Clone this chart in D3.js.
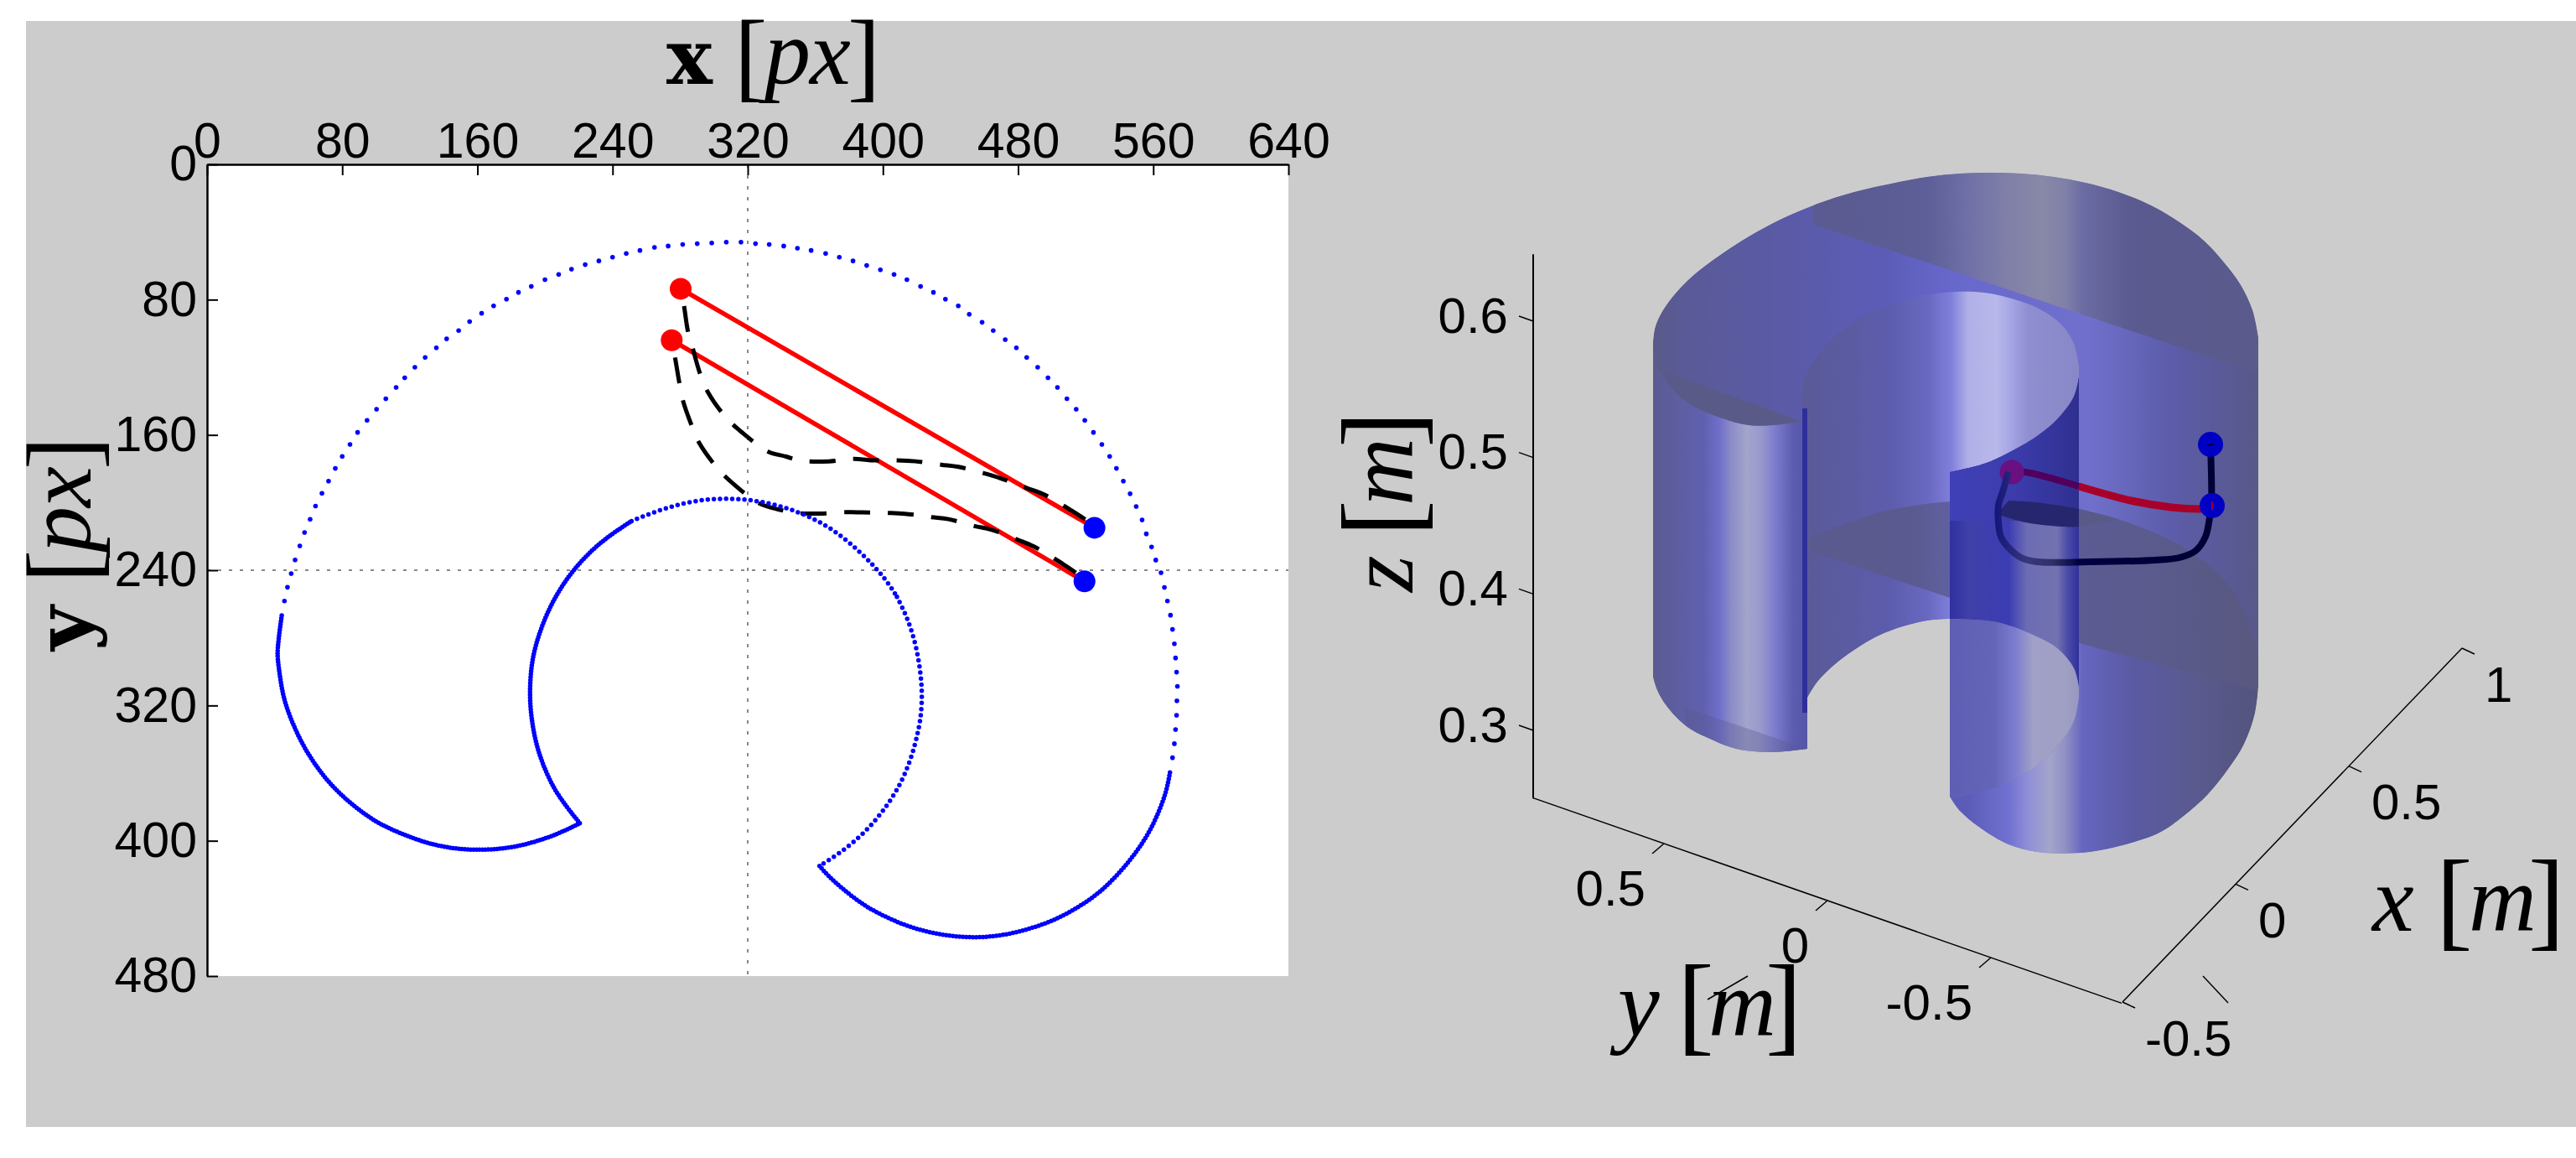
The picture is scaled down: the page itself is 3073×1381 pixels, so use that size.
<!DOCTYPE html>
<html>
<head>
<meta charset="utf-8">
<script src="https://cdn.jsdelivr.net/npm/d3@7"></script>
<style>
  html, body { margin: 0; padding: 0; background: #fff; }
  svg { display: block; }
  .tick-3d { font-family: "Liberation Sans", Arial, sans-serif; fill: #000; font-size: 60px; }
  .math { font-family: "Liberation Serif", serif; fill: #000; }
</style>
</head>
<body>
<div id="chart-area"></div>
<script>
// ---- LEFT PANEL DATA (image plane, px) ----
let xTicks = [0, 80, 160, 240, 320, 400, 480, 560, 640];
let yTicks = [0, 80, 160, 240, 320, 400, 480];
let centerPoint = [320, 240];

// sparse part of the boundary, one entry per visible dot
let boundaryDots = [
  [45.8,258.2],[47.6,250.1],[49.8,242],[52.1,233.9],[54.9,225.6],[57.7,217.7],[61,209.9],[64.2,202.1],[68,194.5],
  [71.9,187.3],[75.9,179.8],[80,172.7],[84.6,165.6],[89.1,158.5],[94.7,151.4],[100.3,144.8],[105.8,138.6],
  [111.9,131.9],[117,126.2],[123,120],[129.1,114.2],[135.7,108.5],[141.8,103.2],[148.9,98.3],[155.4,93],[162.5,88.1],
  [169.6,83.7],[177.2,79.7],[184.3,75.7],[191.9,72.2],[200,68.2],[208.1,65.1],[215.7,62],[223.8,59.3],[231.9,57.1],
  [240,54.9],[248.1,52.7],[256.2,50.9],[264.8,49.1],[272.9,48.3],[281.5,47.4],[290.1,46.9],[298.7,46.5],[307.3,46],
  [316,46],[324.6,46.9],[332.7,47.4],[341.3,48.3],[349.4,49.6],[357.5,50.9],[366.1,52.7],[374.2,54.9],[382.3,57.1],
  [390.4,59.8],[398.5,62.4],[406.6,65.1],[414.2,68.2],[422.3,72.2],[429.9,75.7],[437,79.7],[444.6,83.7],[451.1,88.6],
  [458.7,93.4],[465.3,98.3],[472.4,103.6],[479,108.5],[485.1,114.2],[491.6,120],[497.7,126.2],[503.3,131.9],[508.9,138.6],
  [514.4,144.8],[519.5,151.4],[524.6,158.5],[529.6,165.6],[534.2,172.7],[538.2,179.8],[542.3,187.3],[546.3,194.8],
  [549.9,202.3],[553.4,210.3],[555.9,218.5],[559,226.3],[561.5,234],[564.6,241.5],[566.6,250.2],[568.4,258.2],[570.2,266.6],
  [571.4,275],[572.5,283.5],[573.2,291.9],[573.8,300.3],[574.3,308.7],[574,317.2],[573.8,325.8],[573.2,334.2],
  [572.5,342.6],[571.4,350.9]
];

// dense parts of the boundary
let leftLobe = [[44.2,266.8],[42.9,276],[41.7,287],[41.7,292],[43.2,303.5],[45.3,316],[49.4,327.6],[55.2,340.8],[62.6,353.2],[72.6,366.5],[85.8,378.8],[100.7,389.6],[114,395.4],[128.8,401.1],[143.7,404.4],[158.6,405.6],[173.5,404.9],[186.7,402.8],[201.6,398.3],[213.2,393.4],[220.6,389.6]];
let innerLeft = [[220.6,389.6],[213.2,380.5],[204.9,368.9],[198.3,354],[194.2,340.8],[191.7,325.9],[190.9,312.7],[191.7,297.8],[194.2,284.6],[199.9,268.1],[207.4,253.2],[216.5,240],[228.1,227.6],[239.6,218.5],[251.2,211]];
let innerTop = [[251.2,211],[264.2,205.6],[286.8,198.7],[309.3,197.1],[330.9,199.5],[351.5,205.8],[370.2,215.2],[387.8,230.1],[401.6,245],[408.3,255.7]];
let innerRight = [[408.3,255.7],[414.9,268.9],[420.2,286.3],[422.8,304.4],[423.2,316],[422.4,327.6],[420.4,337.5],[417.4,349.1],[412.4,362.3],[406.6,373],[398.9,384.1],[389,395.4],[377.7,404.9],[368.6,411.1],[362.5,414.9]];
let rightLobe = [[362.5,414.9],[367.8,421],[375.2,427.6],[386.8,437],[398.4,443.6],[413.3,450.2],[428.1,454.5],[443,456.8],[457.9,457.3],[472.8,455.7],[487.7,451.9],[502.6,446.6],[515.8,439.2],[528.2,430.9],[540.6,418.5],[550.5,406.1],[558,394.5],[563.7,382.1],[567.9,370.6],[570,359]];

let trajectoryA = [[280.3,73.6],[282.3,83.8],[284.6,98.7],[287.4,108.6],[291.7,123.5],[296.6,135],[307.4,150],[317.2,159],[331.9,169.8],[342.7,172.8],[351.5,175.2],[368.2,175.6],[382.9,174.2],[392.7,175],[408.4,175],[419.2,175.6],[434.5,177.6],[444.7,178.9],[459.8,182.7],[469.2,185.5],[484.9,191.3],[495.7,195.4],[510.4,204],[521.2,211.1],[525.2,214.9]];
let trajectoryB = [[275,104],[277,114.4],[279.5,129],[281.5,139.2],[286.8,154.4],[291.3,164.8],[302.5,180.2],[311.7,189.1],[326.6,200.4],[336.8,203.7],[348.6,206.1],[362.3,206.5],[378,205.7],[387.8,205.8],[403.1,206.1],[412.9,206.6],[428.6,208.6],[438.8,209.8],[454.1,213.9],[464,216],[479.6,221.9],[489.4,226],[505.1,235.4],[515.4,242.5],[519.3,246.6]];
let startPoints = [[280.3,73.6],[275,104]];
let goalPoints = [[525.2,214.9],[519.3,246.6]];

// ---- RIGHT PANEL DATA ----
let zTicks = [0.3, 0.4, 0.5, 0.6];
let y3Ticks = [0.5, 0, -0.5];
let x3Ticks = [-0.5, 0, 0.5, 1];
let zExtent = [0.25, 0.649];
let y3Extent = [0.9, -0.9];
let x3Extent = [-0.5, 1];

// surface outlines in projected view units
let outerTop = [[14.3,54.4],[14.55,56.1],[15.3,57.8],[16.7,59.8],[18.9,62.1],[22.3,64.7],[25.7,66.9],[29.6,69],[33.9,70.8],[38.3,72.2],[43.2,73.3],[47,74],[50.9,74.4],[54.5,74.5],[58.2,74.4],[62.1,74],[65.9,73.3],[69.8,72.2],[73.7,70.6],[77.1,68.6],[80,66.4],[82.4,63.8],[84.4,61.1],[85.8,58.1],[86.5,54.8]];
let lowerLobe = [[86.5,13.4],[86.1,10.1],[84.8,6.4],[82.9,3.4],[80.5,0.4],[77.6,-2.2],[74.7,-4.2],[70.3,-5.7],[66.4,-6.5],[63.5,-6.67],[60.1,-6.5],[56.7,-5.6],[53.3,-3.6],[50.9,-1.6],[49.7,0.1]];
let gapArc = [[49.7,21.3],[47,21.1],[44.1,20.4],[41.2,19.3],[38.3,17.6],[35.9,15.8],[33.9,13.8],[32.7,11.9]];
let leftFoot = [[32.7,5.8],[30.1,5.5],[27.6,5.4],[24.2,5.8],[21.3,6.9],[18.4,8.4],[16,10.8],[14.8,12.8],[14.3,14.4]];
let holeRim = [[32.1,47.4],[32.2,49.1],[33.5,52.1],[35.4,54.4],[38.3,56.8],[42.2,58.6],[46.1,59.8],[50.4,60.3],[53.8,60.2],[56.7,59.6],[60.1,58.4],[63,56.4],[64.5,54.1],[65.1,51.4]];
let holeLower = [[65.1,50.1],[64.5,47.8],[62.5,45.1],[60.1,43.1],[56.7,41.1],[53.8,39.8],[49.7,38.8]];
let holeBack = [[49.7,15],[32.1,5]];
let topBandEdge = [[33.5,68.3],[85.8,50.8],[90,49.4],[90,80],[33.5,80]];
let columnTop = [[49.7,38.8],[53.8,39.8],[56.7,41.1],[60.1,43.1],[62.5,45.1],[64.5,47.8],[65.1,50.1]];
let columnLensLine = [[65.1,33],[49.7,33]];
let columnArc = [[65.1,13.1],[64.5,15.4],[62.5,17.8],[59.6,19.4],[55.3,20.9],[49.7,21.3]];
let columnCurve = [[49.7,-0.2],[50.9,0.1],[55.8,1.4],[59.6,3.4],[62.5,6.1],[64.5,9.1],[65.1,12.1]];
let lobeEdge = [[65.1,18.4],[86.5,12.8],[90,12],[90,-10],[49.7,-10]];
let leftColumnTop = [[14.3,53.4],[14.8,51.4],[16.5,48.8],[18.9,46.8],[22.3,45.3],[25.7,44.4],[28.6,44.4],[32.1,44.8],[32.7,44.8]];
let leftColumnEnd = [[32.7,5],[14.3,5]];
let crescentEdge = [[15.5,50.8],[32.1,44.8]];
let crescentArc = [[28.6,44.4],[25.7,44.4],[22.3,45.3],[18.9,46.8],[16.5,48.8]];
let footEdge = [[17.9,10.8],[32.7,5.8]];
let footArc = [[32.7,5],[27.6,5],[24.2,5.5],[21.3,6.5],[18.4,8]];
let floorArc = [[32.7,30.9],[41.7,34.1],[49.9,35.3],[56.7,35.4],[65.1,34.4],[66.4,34.1],[70.1,33.1],[77.6,29.8],[82.9,25.4],[85.3,20.8],[86.5,16.8]];
let floorEdge = [[90,12],[86.5,12.8],[65.1,18.4],[49.7,23.8],[33.9,29.1],[32.7,29.6]];
let lensLower = [[55.3,33.8],[58.7,32.8],[63,32.3],[65.1,32.3],[69.8,33.1]];
let lensUpper = [[66.4,34.1],[65.1,34.4],[60,35.2],[56.7,35.4]];
let wallLine = [[32.4,46.4],[32.4,10.1]];

// robot path in view units
let ropePath = [[80.8,42.1],[80.9,34.8],[80.7,33.4],[80.2,31.1],[79,29.4],[77.1,28.6],[74.2,28.3],[66.4,28.1],[60.1,28.1],[58.2,28.6],[56.7,29.8],[55.8,31.1],[55.5,32.8],[55.5,34.8],[56,36.4],[56.7,38.8]];
let redPathFront = [[65.1,37.1],[71.3,35.4],[76.1,34.6],[79.5,34.4],[81,34.5]];
let redPathBack = [[57.1,38.8],[58.7,38.8],[65.1,37.1]];
let blueEnds = [[80.8,42.1],[81,34.8]];
let purpleEnd = [57.1,38.8];
let blackSpeck = [[80.4,42],[81.2,42.1]];
let redSpeck = [[81,35.3],[81,34.3]];
let strayLines = [[[25.6,-21.3],[20.8,-24.1]],[[79.9,-21.3],[82.9,-24.5]]];

// gradient stops, horizontal position in view units
let baseStops = [[14.3,"#5a5a88"],[18,"#5a5a98"],[28,"#5a5aa4"],[42,"#5c5cb8"],[50,"#6868cc"],[66.4,"#7070cc"],[76,"#5c5caa"],[86.5,"#58588a"]];
let topStops = [[32.5,"#5a5a90"],[47,"#5e5e98"],[51.9,"#7070a8"],[56.7,"#8080a8"],[60.6,"#8888a8"],[63.5,"#8080a8"],[65.5,"#6c6ca4"],[71.3,"#5a5a90"],[85.8,"#5a5a8c"]];
let centreStops = [[32.5,"#5a5a98"],[42.2,"#5c5cac"],[47,"#6868c0"],[49.9,"#8080dc"],[51.9,"#b0b0e8"],[55.3,"#b8b8ea"],[56.7,"#a8a8e8"],[59.1,"#8e8ed0"],[65,"#8888c8"]];
let floorStops = [[32.7,"#5a5a8e"],[45,"#5a5a90"],[49.7,"#6060a0"],[65.1,"#5c5c94"],[75,"#5a5a8c"],[86.5,"#585880"]];
let darkStops = [[49.7,"#3030a0"],[51.9,"#4040a8"],[56.7,"#3c3cb4"],[58.9,"#6c6cb4"],[62.5,"#7272b0"],[63.8,"#4a4aa8"],[65.1,"#30309c"]];
let darkTopStops = [[49.7,"#4040b8"],[55,"#3e3eb0"],[60,"#3838a4"],[65.1,"#2f2f90"]];
let columnStops = [[49.7,"#5e5eb4"],[55,"#6464b8"],[57.5,"#7c7cd0"],[59.6,"#a0a0c8"],[63.5,"#a0a0c4"],[65.1,"#9898c0"]];
let lobeStops = [[51.9,"#5c5cb8"],[56.7,"#7070d0"],[59.1,"#9090d8"],[61.6,"#a4a4cc"],[63.5,"#9090c4"],[65.5,"#6666c0"],[71.3,"#5a5aa4"],[78.5,"#5a5a90"],[86.5,"#54547e"]];
let leftStops = [[14.3,"#5c5c90"],[15.5,"#5c5c98"],[20.4,"#6060b0"],[22.3,"#7070cc"],[23.5,"#8a8ac8"],[25.5,"#a4a4cc"],[27.2,"#9898cc"],[28.6,"#8080d0"],[31,"#5c5cb0"],[32.7,"#5656a8"]];
let lensStops = [[55,"#26266e"],[65.1,"#26266e"],[65.1,"#5a5a88"],[70,"#5a5a88"]];
let ropeStops = [[55,"#14147a"],[59,"#38387a"],[62,"#303068"],[65.1,"#000040"],[81,"#000035"]];

// ---- CHART AREA ----
let pageWidth = 3073,
  pageHeight = 1381;

let svg = d3
  .select("#chart-area")
  .append("svg")
  .attr("width", pageWidth)
  .attr("height", pageHeight);

let defs = svg.append("defs");

svg.append("rect")
  .attr("x", 31)
  .attr("y", 25)
  .attr("width", pageWidth - 31)
  .attr("height", 1319)
  .attr("fill", "#cccccc");

// ---- LEFT PANEL ----
let x = d3.scaleLinear().domain([0, 640]).range([247, 1537]);
let y = d3.scaleLinear().domain([0, 480]).range([196, 1164]);

svg.append("rect")
  .attr("x", x(0))
  .attr("y", y(0))
  .attr("width", x(640) - x(0))
  .attr("height", y(480) - y(0))
  .attr("fill", "#fff");

// crosshair
svg.append("line")
  .attr("x1", x(centerPoint[0])).attr("x2", x(centerPoint[0]))
  .attr("y1", y(0)).attr("y2", y(480))
  .attr("stroke", "#888").attr("stroke-width", 2).attr("stroke-dasharray", "4 9");
svg.append("line")
  .attr("x1", x(0)).attr("x2", x(640))
  .attr("y1", y(centerPoint[1])).attr("y2", y(centerPoint[1]))
  .attr("stroke", "#888").attr("stroke-width", 2).attr("stroke-dasharray", "4 9");

let planeLine = d3.line()
  .x(function(d) { return x(d[0]); })
  .y(function(d) { return y(d[1]); });
let planeCurve = d3.line()
  .x(function(d) { return x(d[0]); })
  .y(function(d) { return y(d[1]); })
  .curve(d3.curveCatmullRom.alpha(0.5));
let boundaryCurve = d3.line()
  .x(function(d) { return x(d[0]); })
  .y(function(d) { return y(d[1]); })
  .curve(d3.curveBasis);

// straight image segments
startPoints.forEach(function(d, i) {
  svg.append("path")
    .attr("d", planeLine([d, goalPoints[i]]))
    .attr("fill", "none")
    .attr("stroke", "#ff0000")
    .attr("stroke-width", 5.5);
});

// dashed trajectories
[trajectoryA, trajectoryB].forEach(function(d) {
  svg.append("path")
    .attr("d", planeCurve(d))
    .attr("fill", "none")
    .attr("stroke", "#000")
    .attr("stroke-width", 5)
    .attr("stroke-dasharray", "31 21")
    .attr("stroke-dashoffset", 31);
});

// boundary, dense parts
let denseParts = [
  { points: leftLobe, gap: 3.5 },
  { points: innerLeft, gap: 3.5 },
  { points: innerTop, gap: 7.3 },
  { points: innerRight, gap: 7.3 },
  { points: rightLobe, gap: 4 }
];
denseParts.forEach(function(part) {
  svg.append("path")
    .attr("d", boundaryCurve(part.points))
    .attr("fill", "none")
    .attr("stroke", "#0000ff")
    .attr("stroke-width", 5.5)
    .attr("stroke-linecap", "round")
    .attr("stroke-dasharray", "0 " + part.gap);
});

svg.append("g")
  .selectAll("circle")
  .data(boundaryDots)
  .enter()
  .append("circle")
  .attr("cx", function(d) { return x(d[0]); })
  .attr("cy", function(d) { return y(d[1]); })
  .attr("r", 2.8)
  .attr("fill", "#0000ff");

svg.append("g")
  .selectAll("circle")
  .data(startPoints)
  .enter()
  .append("circle")
  .attr("cx", function(d) { return x(d[0]); })
  .attr("cy", function(d) { return y(d[1]); })
  .attr("r", 13)
  .attr("fill", "#ff0000");

svg.append("g")
  .selectAll("circle")
  .data(goalPoints)
  .enter()
  .append("circle")
  .attr("cx", function(d) { return x(d[0]); })
  .attr("cy", function(d) { return y(d[1]); })
  .attr("r", 13)
  .attr("fill", "#0000ff");

// axes
let xAxis = d3.axisTop(x)
  .tickValues(xTicks)
  .tickSizeInner(-13)
  .tickSizeOuter(0)
  .tickPadding(8);
let yAxis = d3.axisLeft(y)
  .tickValues(yTicks)
  .tickSizeInner(-13)
  .tickSizeOuter(0)
  .tickPadding(12);

let xAxisGroup = svg.append("g")
  .attr("transform", "translate(0," + y(0) + ")")
  .call(xAxis);
let yAxisGroup = svg.append("g")
  .attr("transform", "translate(" + x(0) + ",0)")
  .call(yAxis);

[xAxisGroup, yAxisGroup].forEach(function(g) {
  g.selectAll("text").style("font-size", "59px").style("font-family", "'Liberation Sans', Arial, sans-serif").attr("fill", "#000");
  g.selectAll("line").attr("stroke", "#000").attr("stroke-width", 2);
  g.select(".domain").attr("stroke", "#000").attr("stroke-width", 2.5);
});

// axis titles, each glyph group placed by its offset along the text
function mathLabel(origin, rotated, parts) {
  let t = svg.append("text")
    .attr("class", "math")
    .attr("transform", "translate(" + origin[0] + "," + origin[1] + ")" + (rotated ? " rotate(-90)" : ""));
  parts.forEach(function(p) {
    t.append("tspan")
      .attr("x", p.at)
      .attr("y", p.drop || 0)
      .style("font-size", p.size + "px")
      .style("font-style", p.italic ? "italic" : "normal")
      .style("font-weight", p.bold ? "bold" : "normal")
      .style("font-family", p.bold ? "'DejaVu Serif', serif" : null)
      .text(p.text);
  });
}

function pxParts(letter) {
  return [
    { text: letter, at: 0, size: 92, bold: true },
    { text: "[", at: 81, size: 118, drop: 6 },
    { text: "p", at: 117, size: 110, italic: true },
    { text: "x", at: 171, size: 110, italic: true },
    { text: "]", at: 216, size: 118, drop: 6 }
  ];
}

function metreParts(letter, open, m, close) {
  return [
    { text: letter, at: 2, size: 112, italic: true },
    { text: "[", at: open, size: 131, drop: 6 },
    { text: "m", at: m, size: 112, italic: true },
    { text: "]", at: close, size: 131, drop: 6 }
  ];
}

mathLabel([795, 100], false, pxParts("x"));
mathLabel([108, 776], true, pxParts("y"));

// ---- RIGHT PANEL ----
let viewX = d3.scaleLinear().domain([0, 100]).range([1829, 2829]);
let viewY = d3.scaleLinear().domain([0, 100]).range([951, -49]);

let surfaceLine = d3.line()
  .x(function(d) { return viewX(d[0]); })
  .y(function(d) { return viewY(d[1]); })
  .curve(d3.curveCatmullRom.alpha(0.5));

// several arcs joined by straight edges, closed
function surfacePath(arcs) {
  return arcs.map(function(a, i) {
    let s = surfaceLine(a);
    return i === 0 ? s : "L" + s.slice(1);
  }).join("") + "Z";
}

function addGradient(id, stops) {
  let first = stops[0][0],
    last = stops[stops.length - 1][0];
  let g = defs.append("linearGradient")
    .attr("id", id)
    .attr("gradientUnits", "userSpaceOnUse")
    .attr("x1", viewX(first)).attr("x2", viewX(last))
    .attr("y1", 0).attr("y2", 0);
  stops.forEach(function(s) {
    g.append("stop")
      .attr("offset", (s[0] - first) / (last - first))
      .attr("stop-color", s[1]);
  });
}

addGradient("g-base", baseStops);
addGradient("g-top", topStops);
addGradient("g-centre", centreStops);
addGradient("g-floor", floorStops);
addGradient("g-dark", darkStops);
addGradient("g-dark-top", darkTopStops);
addGradient("g-column", columnStops);
addGradient("g-lobe", lobeStops);
addGradient("g-left", leftStops);
addGradient("g-lens", lensStops);
addGradient("g-rope", ropeStops);

let silhouette = [outerTop, lowerLobe, gapArc, leftFoot];

defs.append("clipPath")
  .attr("id", "solid-clip")
  .append("path")
  .attr("d", surfacePath(silhouette));

let solid = svg.append("g").attr("clip-path", "url(#solid-clip)");

let layers = [
  { arcs: silhouette, fill: "url(#g-base)" },
  { arcs: [topBandEdge], fill: "url(#g-top)" },
  { arcs: [holeRim, holeLower, holeBack], fill: "url(#g-centre)" },
  { arcs: [floorArc, floorEdge], fill: "url(#g-floor)" },
  { arcs: [columnTop, columnArc], fill: "url(#g-dark)" },
  { arcs: [columnTop, columnLensLine], fill: "url(#g-dark-top)" },
  { arcs: [columnCurve, lobeEdge], fill: "url(#g-lobe)" },
  { arcs: [columnCurve, columnArc], fill: "url(#g-column)" },
  { arcs: [leftColumnTop, leftColumnEnd], fill: "url(#g-left)" },
  { arcs: [crescentEdge, crescentArc], fill: "#5a5a88" },
  { arcs: [footEdge, footArc], fill: "#58588c", opacity: 0.35 },
  { arcs: [lensLower, lensUpper], fill: "url(#g-lens)" }
];

layers.forEach(function(layer) {
  solid.append("path")
    .attr("d", surfacePath(layer.arcs))
    .attr("fill", layer.fill)
    .attr("fill-opacity", layer.opacity === undefined ? 1 : layer.opacity);
});

solid.append("path")
  .attr("d", surfaceLine(wallLine))
  .attr("fill", "none")
  .attr("stroke", "#2f2f9c")
  .attr("stroke-width", 6);

// path on top of the solid
svg.append("path")
  .attr("d", surfaceLine(redPathFront))
  .attr("fill", "none").attr("stroke", "#a80028").attr("stroke-width", 9);
svg.append("path")
  .attr("d", surfaceLine(redPathBack))
  .attr("fill", "none").attr("stroke", "#50005c").attr("stroke-width", 8);
svg.append("circle")
  .attr("cx", viewX(purpleEnd[0]))
  .attr("cy", viewY(purpleEnd[1]))
  .attr("r", 14.5)
  .attr("fill", "#6a1080");
svg.append("path")
  .attr("d", surfaceLine(ropePath))
  .attr("fill", "none").attr("stroke", "url(#g-rope)").attr("stroke-width", 8);
svg.append("g")
  .selectAll("circle")
  .data(blueEnds)
  .enter()
  .append("circle")
  .attr("cx", function(d) { return viewX(d[0]); })
  .attr("cy", function(d) { return viewY(d[1]); })
  .attr("r", 15)
  .attr("fill", "#0000c4");
svg.append("path")
  .attr("d", surfaceLine(blackSpeck))
  .attr("fill", "none").attr("stroke", "#000035").attr("stroke-width", 2);
svg.append("path")
  .attr("d", surfaceLine(redSpeck))
  .attr("fill", "none").attr("stroke", "#c00020").attr("stroke-width", 1.5);

// 3d axes
let zAxisY = d3.scaleLinear().domain([0.3, 0.6]).range([871, 383]);
let yAxisX = d3.scaleLinear().domain([0.5, -0.5]).range([1985, 2375]);
let yAxisY = d3.scaleLinear().domain([0.5, -0.5]).range([1006, 1142]);
let xAxisX = d3.scaleLinear().domain([-0.5, 1]).range([2532, 2937]);
let xAxisY = d3.scaleLinear().domain([-0.5, 1]).range([1195, 773]);
let zAxisX = viewX(0);

let axes3d = svg.append("g").attr("stroke", "#000").attr("fill", "none");

axes3d.append("line")
  .attr("x1", zAxisX).attr("x2", zAxisX)
  .attr("y1", zAxisY(zExtent[0])).attr("y2", zAxisY(zExtent[1]))
  .attr("stroke-width", 2);
axes3d.append("line")
  .attr("x1", yAxisX(y3Extent[0])).attr("y1", yAxisY(y3Extent[0]))
  .attr("x2", yAxisX(y3Extent[1])).attr("y2", yAxisY(y3Extent[1]))
  .attr("stroke-width", 1.5);
axes3d.append("line")
  .attr("x1", xAxisX(x3Extent[0])).attr("y1", xAxisY(x3Extent[0]))
  .attr("x2", xAxisX(x3Extent[1])).attr("y2", xAxisY(x3Extent[1]))
  .attr("stroke-width", 1.5);

zTicks.forEach(function(d) {
  axes3d.append("line")
    .attr("x1", zAxisX).attr("x2", zAxisX - 17)
    .attr("y1", zAxisY(d)).attr("y2", zAxisY(d) - 6)
    .attr("stroke-width", 1.5);
  svg.append("text")
    .attr("class", "tick-3d")
    .attr("x", 1799)
    .attr("y", zAxisY(d) - 8)
    .attr("dy", "0.36em")
    .attr("text-anchor", "end")
    .text(d);
});
y3Ticks.forEach(function(d) {
  axes3d.append("line")
    .attr("x1", yAxisX(d)).attr("x2", yAxisX(d) - 14)
    .attr("y1", yAxisY(d)).attr("y2", yAxisY(d) + 12)
    .attr("stroke-width", 1.5);
  svg.append("text")
    .attr("class", "tick-3d")
    .attr("x", yAxisX(d) - 22)
    .attr("y", yAxisY(d) + 52)
    .attr("dy", "0.36em")
    .attr("text-anchor", "end")
    .text(d);
});
x3Ticks.forEach(function(d) {
  axes3d.append("line")
    .attr("x1", xAxisX(d)).attr("x2", xAxisX(d) + 15)
    .attr("y1", xAxisY(d)).attr("y2", xAxisY(d) + 7)
    .attr("stroke-width", 1.5);
  svg.append("text")
    .attr("class", "tick-3d")
    .attr("x", xAxisX(d) + 27)
    .attr("y", xAxisY(d) + 42)
    .attr("dy", "0.36em")
    .attr("text-anchor", "start")
    .text(d);
});
strayLines.forEach(function(d) {
  axes3d.append("line")
    .attr("x1", viewX(d[0][0])).attr("y1", viewY(d[0][1]))
    .attr("x2", viewX(d[1][0])).attr("y2", viewY(d[1][1]))
    .attr("stroke-width", 1.5);
});

mathLabel([1685, 708], true, metreParts("z", 68, 105, 174));
mathLabel([2828, 1110], false, metreParts("x", 78, 117, 188));
mathLabel([1928, 1235], false, metreParts("y", 73, 110, 178));
</script>
</body>
</html>
